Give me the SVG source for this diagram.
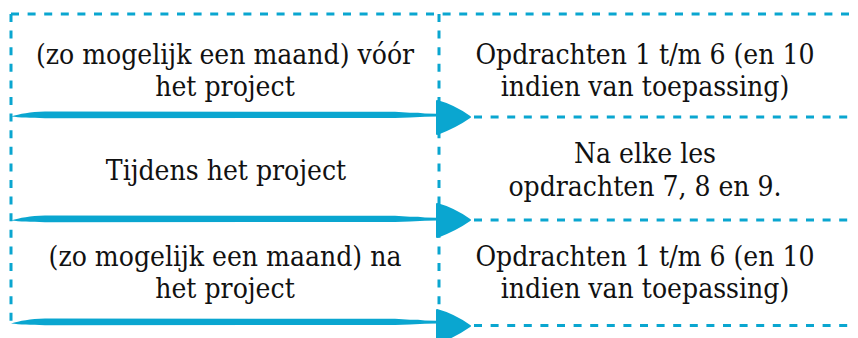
<svg xmlns="http://www.w3.org/2000/svg" width="858" height="338" viewBox="0 0 858 338">
<defs>
<style>
.dash{fill:none;stroke:#0aa6d0;stroke-width:3;stroke-dasharray:8 8.6}
.brush{fill:#0aa6d0;stroke:none}
.head{fill:#0aa6d0;stroke:#0aa6d0;stroke-width:2;stroke-linejoin:round}
.t{font-family:'DejaVu Serif Condensed','DejaVu Serif',serif;font-stretch:condensed;font-size:28px;fill:#111;text-anchor:middle}
</style>
<path id="stroke" d="M11,118.5 C20,116 30,114 45,113.6 L395,113.8 L410,114.8 L418,114.8 L425,115.6 L437,115.8 L437,118.6 L425,118.8 L410,119.4 L395,120 L45,120.2 C30,120 20,119.5 11,118.5 Z"/>
<path id="tri" d="M437,101 C448,104 460,110 470,117 C460,124 448,130 437,134 Z"/>
</defs>
<rect width="858" height="338" fill="#fff"/>
<g id="frame">
<line class="dash" x1="11" y1="14" x2="853" y2="14"/>
<line class="dash" x1="11" y1="14" x2="11" y2="324"/>
<line class="dash" x1="439" y1="14" x2="439" y2="324"/>
</g>
<g class="t">
<g id="row1-left"><text x="225" y="64">(zo mogelijk een maand) vóór</text><text x="225" y="96">het project</text></g>
<g id="row1-right"><text x="645" y="64">Opdrachten 1 t/m 6 (en 10</text><text x="645" y="96">indien van toepassing)</text></g>
<g id="row2-left"><text x="226" y="180">Tijdens het project</text></g>
<g id="row2-right"><text x="645" y="163">Na elke les</text><text x="645" y="196">opdrachten 7, 8 en 9.</text></g>
<g id="row3-left"><text x="225" y="266">(zo mogelijk een maand) na</text><text x="225" y="298">het project</text></g>
<g id="row3-right"><text x="645" y="266">Opdrachten 1 t/m 6 (en 10</text><text x="645" y="298">indien van toepassing)</text></g>
</g>
<g id="connectors">
<use href="#stroke" class="brush" transform="translate(0,-2)"/>
<use href="#tri" class="head"/>
<line class="dash" x1="474" y1="117" x2="853" y2="117"/>
<use href="#stroke" class="brush" transform="translate(0,102)"/>
<use href="#tri" class="head" transform="translate(0,103)"/>
<line class="dash" x1="474" y1="220" x2="853" y2="220"/>
<use href="#stroke" class="brush" transform="translate(0,205)"/>
<use href="#tri" class="head" transform="translate(0,209)"/>
<line class="dash" x1="474" y1="325.5" x2="853" y2="325.5"/>
</g>
</svg>
